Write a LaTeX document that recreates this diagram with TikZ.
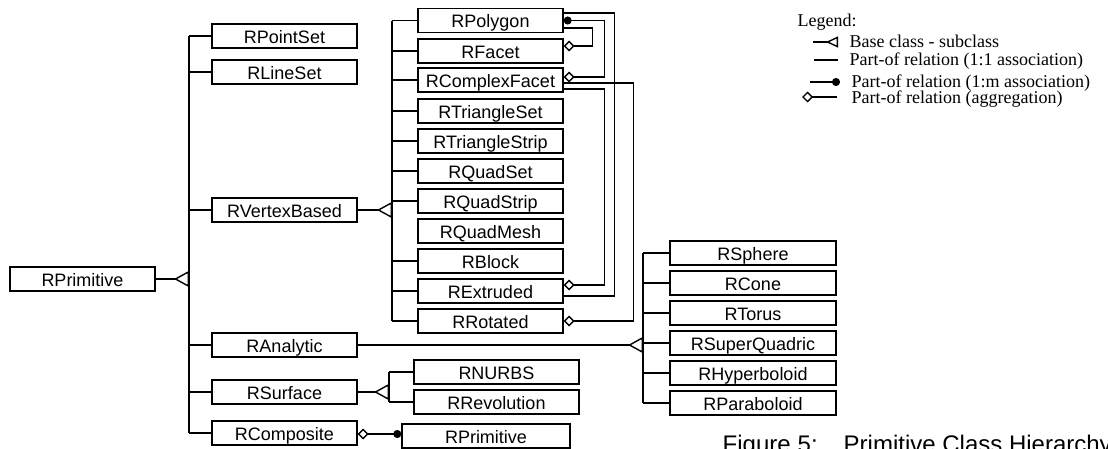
\documentclass[tikz,border=0pt]{standalone}
\usepackage{fontspec}
\setmainfont{Liberation Serif}
\newfontfamily\boxfont{Liberation Sans}
\usetikzlibrary{arrows.meta}

\tikzset{
  cls/.style={draw, minimum width=145pt, minimum height=24pt, inner sep=0pt,
    text height=14pt, text depth=0pt, font=\boxfont\fontsize{18}{20}\selectfont},
  isa/.style={-{Triangle[open,reversed,length=15pt,width=16pt]}},
  aggr/.style={{Diamond[open,length=11pt,width=11pt]}-},
  many/.style={-{Circle[length=8pt]}},
  aggrmany/.style={{Diamond[open,length=11pt,width=11pt]}-{Circle[length=8pt]}},
  legtext/.style={anchor=base west, inner sep=0pt, font=\fontsize{18}{20}\selectfont}
}

\begin{document}
\begin{tikzpicture}[x=1pt, y=-1pt, line width=1.4pt]
    \useasboundingbox (0,0) rectangle (1108,448);
    \clip (0,0) rectangle (1108,448);

    % Base class and its subclasses
    \node[cls] (prim) at (82.5,279) {RPrimitive};
    \coordinate (pbus) at (189,279);
    \node[cls] (pointset) at (284.5,36) {RPointSet};
    \node[cls] (lineset) at (284.5,72) {RLineSet};
    \node[cls] (vertex) at (284.5,210) {RVertexBased};
    \node[cls] (analytic) at (284.5,345) {RAnalytic};
    \node[cls] (surface) at (284.5,392) {RSurface};
    \node[cls] (composite) at (284.5,433) {RComposite};

    \draw[isa] (prim.east) -- (pbus);
    \draw (pbus |- pointset.west) -- (pbus |- composite.west);
    \draw (pbus |- pointset.west) -- (pointset.west);
    \draw (pbus |- lineset.west) -- (lineset.west);
    \draw (pbus |- vertex.west) -- (vertex.west);
    \draw (pbus |- analytic.west) -- (analytic.west);
    \draw (pbus |- surface.west) -- (surface.west);
    \draw (pbus |- composite.west) -- (composite.west);

    % Vertex based primitives
    \node[cls] (poly) at (490.5,20.5) {RPolygon};
    \node[cls] (facet) at (490.5,51) {RFacet};
    \node[cls] (cface) at (490.5,80) {RComplexFacet};
    \node[cls] (triset) at (490.5,111) {RTriangleSet};
    \node[cls] (tristrip) at (490.5,141) {RTriangleStrip};
    \node[cls] (quadset) at (490.5,171) {RQuadSet};
    \node[cls] (quadstrip) at (490.5,201) {RQuadStrip};
    \node[cls] (quadmesh) at (490.5,231) {RQuadMesh};
    \node[cls] (block) at (490.5,261) {RBlock};
    \node[cls] (extr) at (490.5,291) {RExtruded};
    \node[cls] (rot) at (490.5,321) {RRotated};
    \coordinate (vbus) at (392,210);

    \draw[isa] (vertex.east) -- (vbus);
    \draw (vbus |- poly.west) -- (vbus |- rot.west);
    \draw (vbus |- poly.west) -- (poly.west);
    \draw (vbus |- facet.west) -- (facet.west);
    \draw (vbus |- cface.west) -- (cface.west);
    \draw (vbus |- triset.west) -- (triset.west);
    \draw (vbus |- tristrip.west) -- (tristrip.west);
    \draw (vbus |- quadset.west) -- (quadset.west);
    \draw (vbus |- quadstrip.west) -- (quadstrip.west);
    \draw (vbus |- block.west) -- (block.west);
    \draw (vbus |- extr.west) -- (extr.west);
    \draw (vbus |- rot.west) -- (rot.west);

    % Part-of relations between vertex based primitives
    \draw ([yshift=-5pt]extr.east) -- ++(51,0) |- ([yshift=7.5pt]poly.east);
    \draw[aggrmany] ([yshift=3pt]cface.east) -- ++(41,0) |- (poly.east);
    \draw[aggr] ([yshift=5pt]facet.east) -- ++(29,0) |- ([yshift=-7.5pt]poly.east);
    \draw[aggr] (rot.east) -- ++(70,0) |- ([yshift=-3pt]cface.east);
    \draw[aggr] ([yshift=6pt]extr.east) -- ++(41,0) |- ([yshift=-9pt]cface.east);

    % Analytic primitives
    \node[cls, minimum width=166pt] (sphere) at (753,253) {RSphere};
    \node[cls, minimum width=166pt] (cone) at (753,283) {RCone};
    \node[cls, minimum width=166pt] (torus) at (753,313) {RTorus};
    \node[cls, minimum width=166pt] (squad) at (753,343) {RSuperQuadric};
    \node[cls, minimum width=166pt] (hyper) at (753,373) {RHyperboloid};
    \node[cls, minimum width=166pt] (parab) at (753,403) {RParaboloid};
    \coordinate (abus) at (643,345);

    \draw[isa] (analytic.east) -- (abus);
    \draw (abus |- sphere.west) -- (abus |- parab.west);
    \draw (abus |- sphere.west) -- (sphere.west);
    \draw (abus |- cone.west) -- (cone.west);
    \draw (abus |- torus.west) -- (torus.west);
    \draw (abus |- squad.west) -- (squad.west);
    \draw (abus |- hyper.west) -- (hyper.west);
    \draw (abus |- parab.west) -- (parab.west);

    % Surfaces
    \node[cls, minimum width=165pt] (nurbs) at (496.5,372) {RNURBS};
    \node[cls, minimum width=165pt] (revol) at (496.5,402) {RRevolution};
    \coordinate (sbus) at (389,392);

    \draw[isa] (surface.east) -- (sbus);
    \draw (sbus |- nurbs.west) -- (sbus |- revol.west);
    \draw (sbus |- nurbs.west) -- (nurbs.west);
    \draw (sbus |- revol.west) -- (revol.west);

    % Composite
    \node[cls, minimum width=168pt] (prim2) at (486,436) {RPrimitive};
    \draw[aggrmany] ([yshift=-1pt]composite.east) -- ([yshift=-1pt]composite.east -| prim2.west);

    % Legend
    \node[legtext] (legend) at (797,26) {Legend:};
    \node[legtext] (leg1) at (849,47) {Base class - subclass};
    \node[legtext] (leg2) at (849,65) {Part-of relation (1:1 association)};
    \node[legtext] (leg3) at (851,87) {Part-of relation (1:m association)};
    \node[legtext] (leg4) at (851,103) {Part-of relation (aggregation)};
    \coordinate (s1a) at (813,42);
    \coordinate (s1b) at (838,42);
    \coordinate (s2a) at (814,60);
    \coordinate (s2b) at (838,60);
    \coordinate (s3a) at (810,82);
    \coordinate (s3b) at (840,82);
    \coordinate (s4a) at (802,97);
    \coordinate (s4b) at (837,97);
    \draw[-{Triangle[open,reversed,length=12pt,width=11pt]}] (s1a) -- (s1b);
    \draw (s2a) -- (s2b);
    \draw[many] (s3a) -- (s3b);
    \draw[aggr] (s4a) -- (s4b);

    % Caption
    \node[anchor=base west, inner sep=0pt, font=\boxfont\fontsize{24}{26}\selectfont] (caption) at (722,452)
        {Figure\hspace{7pt}5:\hspace{26pt}Primitive Class Hierarchy};
\end{tikzpicture}
\end{document}
